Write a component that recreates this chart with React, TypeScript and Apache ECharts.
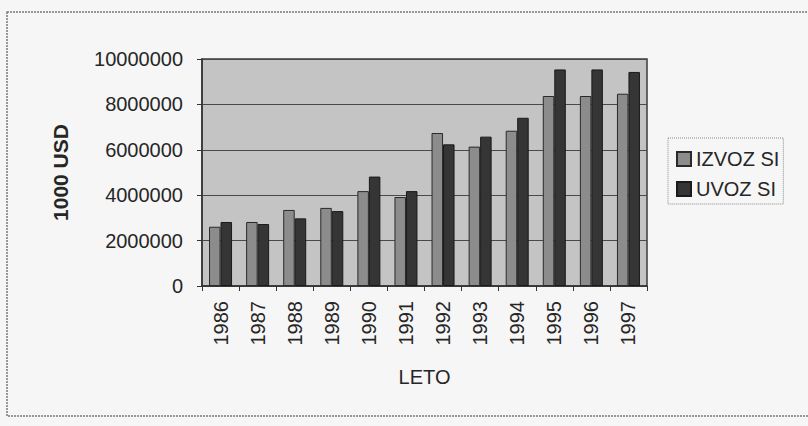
import React, { useEffect, useRef } from "react";
import * as echarts from "echarts";

const years = ["1986", "1987", "1988", "1989", "1990", "1991", "1992", "1993", "1994", "1995", "1996", "1997"];
const izvozSI = [2610000, 2820000, 3350000, 3440000, 4180000, 3920000, 6740000, 6140000, 6840000, 8370000, 8370000, 8470000];
const uvozSI = [2820000, 2730000, 2980000, 3300000, 4820000, 4180000, 6240000, 6580000, 7410000, 9540000, 9540000, 9430000];
const yTicks = { min: 0, max: 10000000, interval: 2000000 };
const seriesNames = ["IZVOZ SI", "UVOZ SI"];

const FONT = "Liberation Sans, Arial, sans-serif";
const TXT = "#262626";

export default function App() {
  const ref = useRef<HTMLDivElement>(null);
  useEffect(() => {
    if (!ref.current) return;
    const chart = echarts.init(ref.current, undefined, { renderer: "svg" });
    chart.setOption({
      animation: false,
      backgroundColor: "#f6f6f6",
      textStyle: { fontFamily: FONT, color: TXT },
      graphic: [
        {
          type: "rect",
          shape: { x: 7, y: 12, width: 812, height: 404 },
          style: { fill: "none", stroke: "#7a7a7a", lineWidth: 1.5, lineDash: [2, 1] },
          silent: true,
        },
      ],
      legend: {
        orient: "vertical",
        left: 668,
        top: 138,
        width: 124,
        padding: [11, 4, 5, 8],
        itemGap: 10,
        itemWidth: 14,
        itemHeight: 14,
        borderColor: "#8a8a8a",
        borderWidth: 1,
        borderType: "dotted",
        icon: "rect",
        textStyle: { fontSize: 20, color: TXT, fontFamily: FONT, padding: [0, 0, 0, 0], lineHeight: 20 },
        data: seriesNames,
      },
      grid: {
        left: 202,
        right: 161,
        top: 59,
        bottom: 140,
        show: true,
        backgroundColor: "#c4c4c4",
        borderColor: "#3a3a3a",
        borderWidth: 1.5,
      },
      xAxis: {
        type: "category",
        data: years,
        name: "LETO",
        nameLocation: "middle",
        nameGap: 81,
        nameTextStyle: { fontSize: 20, color: TXT, fontFamily: FONT },
        axisLine: { show: true, lineStyle: { color: "#333", width: 1.5 } },
        axisTick: { show: true, length: 5, lineStyle: { color: "#333" } },
        axisLabel: { rotate: 90, fontSize: 20, color: TXT, margin: 15, fontFamily: FONT },
      },
      yAxis: {
        type: "value",
        min: yTicks.min,
        max: yTicks.max,
        interval: yTicks.interval,
        name: "1000 USD",
        nameLocation: "middle",
        nameGap: 131,
        nameTextStyle: { fontSize: 21, fontWeight: "bold", color: TXT, fontFamily: FONT },
        axisLine: { show: true, lineStyle: { color: "#333", width: 1.5 } },
        axisTick: { show: true, length: 5, lineStyle: { color: "#333" } },
        axisLabel: {
          fontSize: 20,
          color: TXT,
          margin: 19,
          fontFamily: FONT,
          formatter: (v: number) => String(v),
        },
        splitLine: { show: true, lineStyle: { color: "#4a4a4a", width: 1 } },
      },
      series: [
        {
          name: seriesNames[0],
          type: "bar",
          data: izvozSI,
          barGap: "0%",
          barCategoryGap: "38%",
          itemStyle: { color: "#8c8c8c", borderColor: "#2a2a2a", borderWidth: 1 },
        },
        {
          name: seriesNames[1],
          type: "bar",
          data: uvozSI,
          itemStyle: { color: "#353535", borderColor: "#1a1a1a", borderWidth: 1 },
        },
      ],
    });
    return () => chart.dispose();
  }, []);
  return (
    <div
      ref={ref}
      style={{ position: "fixed", left: 0, top: 0, width: 808, height: 426 }}
    />
  );
}
